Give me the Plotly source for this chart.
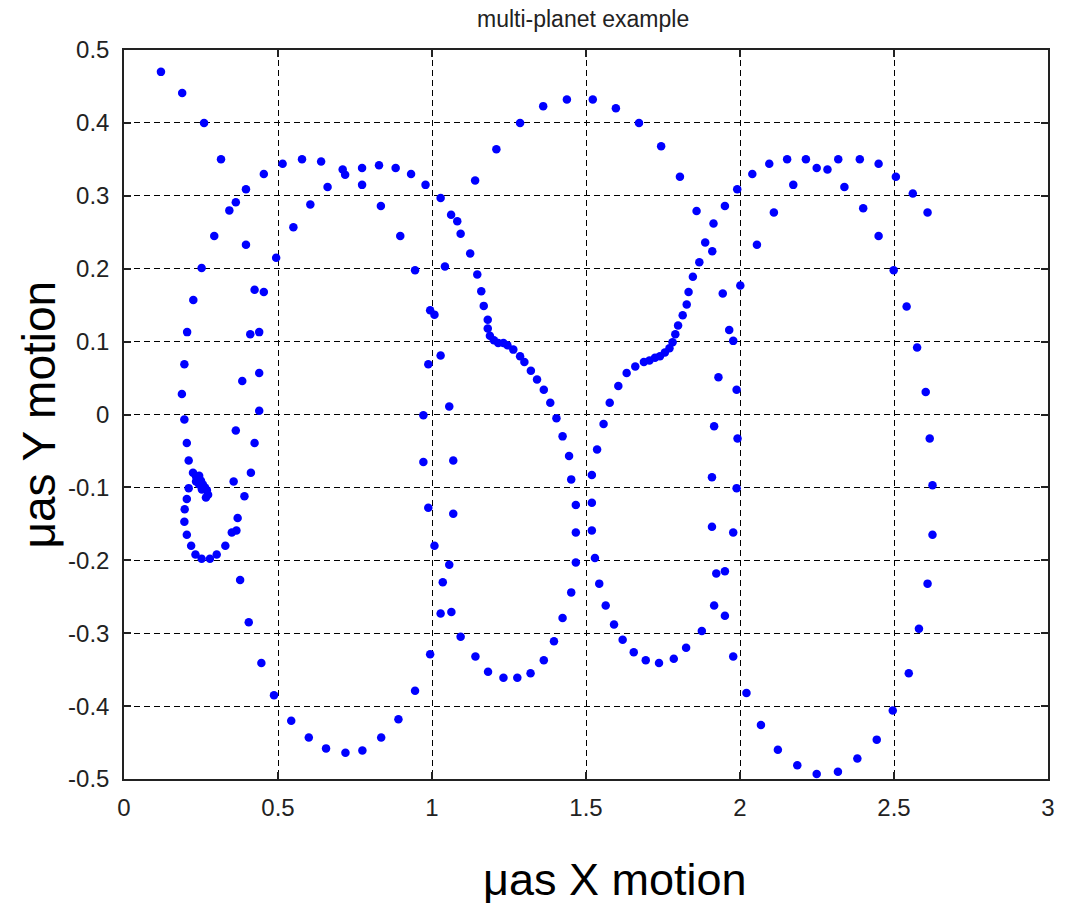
import plotly.graph_objects as go

# --- data (µas) ---
x_motion = [
    # outer left arc, top and descending branch
    0.120, 0.189, 0.260, 0.315, 0.342, 0.363, 0.396, 0.454, 0.515, 0.578, 0.640, 0.710, 0.718,
    0.773, 0.828, 0.882, 0.932, 0.979, 1.028, 1.062, 1.082, 1.093, 1.124, 1.147, 1.160, 1.168,
    1.181, 1.181, 1.188, 1.201, 1.215, 1.232, 1.245, 1.264, 1.286, 1.300, 1.321, 1.341, 1.363,
    1.384, 1.404, 1.424, 1.445, 1.452, 1.467, 1.467, 1.467, 1.452, 1.424, 1.396, 1.363, 1.320,
    1.277, 1.232, 1.182, 1.141, 1.093, 1.063, 1.028, 1.035, 1.056, 1.008, 1.069, 0.988, 1.069,
    0.972, 1.056, 0.972, 1.028, 0.988, 0.994, 1.008, 1.042, 0.945,
    # inner left arc and loop
    0.897, 0.834, 0.773, 0.661, 0.605, 0.550, 0.494, 0.454, 0.424, 0.396, 0.293, 0.252, 0.225,
    0.205, 0.196, 0.188, 0.196, 0.204, 0.210,
    0.224, 0.234, 0.244, 0.250, 0.256, 0.263, 0.269, 0.273, 0.266, 0.244, 0.253, 0.234,
    0.210, 0.204, 0.197, 0.196, 0.204, 0.218, 0.232, 0.252, 0.279, 0.301, 0.329, 0.350, 0.365,
    0.369, 0.391, 0.356, 0.412, 0.424, 0.363, 0.439, 0.384, 0.439, 0.410, 0.439,
    # lower left arc
    0.377, 0.405, 0.446, 0.487, 0.543, 0.600, 0.656, 0.719, 0.774, 0.835, 0.891, 0.945, 0.994,
    # top middle arc
    1.140, 1.209, 1.286, 1.361, 1.438, 1.522, 1.597, 1.672, 1.744, 1.805,
    # right-middle branch
    1.529, 1.519, 1.519, 1.519, 1.536, 1.557, 1.577, 1.605, 1.632, 1.660, 1.688, 1.706, 1.724,
    1.740, 1.756, 1.771, 1.781, 1.790, 1.799, 1.814, 1.827, 1.833, 1.847, 1.868, 1.887, 1.910,
    1.859, 1.914, 1.951, 1.991, 1.944, 2.001,
    1.543, 1.564, 1.591, 1.619, 1.655, 1.694, 1.737, 1.785, 1.825, 1.876, 1.916, 1.951, 1.923,
    1.951, 1.978,
    1.965, 1.978, 1.930, 1.989, 1.916, 1.992, 1.909, 1.989, 1.909, 1.978,
    # right arc
    2.040, 2.095, 2.153, 2.214, 2.249, 2.284, 2.319, 2.389, 2.450, 2.506, 2.561, 2.609, 2.173,
    2.110, 2.055, 2.339, 2.400, 2.450, 2.499, 2.541, 2.575, 2.603, 2.616, 2.625, 2.625, 2.609,
    2.581, 2.548, 2.496, 2.444, 2.381, 2.318, 2.249, 2.186, 2.123, 2.068, 2.021,
]

y_motion = [
    0.470, 0.441, 0.400, 0.350, 0.280, 0.291, 0.309, 0.330, 0.344, 0.350, 0.347, 0.336, 0.329,
    0.338, 0.342, 0.338, 0.330, 0.315, 0.297, 0.274, 0.265, 0.248, 0.221, 0.192, 0.169, 0.149,
    0.130, 0.118, 0.108, 0.102, 0.098, 0.098, 0.095, 0.089, 0.080, 0.072, 0.060, 0.048, 0.034,
    0.016, -0.005, -0.030, -0.057, -0.089, -0.124, -0.162, -0.203, -0.244, -0.279, -0.311, -0.337, -0.355,
    -0.361, -0.361, -0.353, -0.332, -0.305, -0.271, -0.273, -0.230, -0.206, -0.180, -0.136, -0.128, -0.063,
    -0.065, 0.011, -0.001, 0.081, 0.069, 0.143, 0.137, 0.203, 0.198,
    0.245, 0.286, 0.315, 0.312, 0.288, 0.257, 0.215, 0.168, 0.171, 0.233, 0.245, 0.201, 0.157,
    0.113, 0.069, 0.028, -0.007, -0.039, -0.063,
    -0.080, -0.085, -0.084, -0.091, -0.096, -0.100, -0.104, -0.110, -0.114, -0.096, -0.103, -0.092,
    -0.101, -0.116, -0.130, -0.147, -0.165, -0.180, -0.192, -0.198, -0.198, -0.192, -0.180, -0.162, -0.159,
    -0.142, -0.112, -0.092, -0.080, -0.039, -0.022, 0.005, 0.046, 0.057, 0.110, 0.113,
    -0.227, -0.285, -0.341, -0.385, -0.420, -0.443, -0.458, -0.464, -0.461, -0.443, -0.418, -0.379, -0.329,
    0.321, 0.364, 0.400, 0.423, 0.432, 0.432, 0.420, 0.400, 0.368, 0.326,
    -0.197, -0.159, -0.121, -0.083, -0.048, -0.013, 0.016, 0.039, 0.057, 0.066, 0.072, 0.074, 0.078,
    0.080, 0.085, 0.091, 0.099, 0.110, 0.122, 0.136, 0.151, 0.168, 0.189, 0.209, 0.236, 0.224,
    0.279, 0.262, 0.286, 0.309, 0.166, 0.177,
    -0.232, -0.262, -0.288, -0.309, -0.326, -0.337, -0.341, -0.335, -0.320, -0.297, -0.262, -0.276, -0.218,
    -0.215, -0.332,
    0.116, 0.101, 0.051, 0.034, -0.016, -0.033, -0.086, -0.101, -0.154, -0.162,
    0.330, 0.344, 0.350, 0.350, 0.338, 0.336, 0.350, 0.350, 0.344, 0.326, 0.303, 0.277, 0.315,
    0.277, 0.233, 0.312, 0.283, 0.245, 0.198, 0.148, 0.092, 0.031, -0.033, -0.097, -0.165, -0.232,
    -0.294, -0.355, -0.406, -0.446, -0.472, -0.490, -0.493, -0.481, -0.460, -0.426, -0.382,
]

x_tickvals = [0, 0.5, 1, 1.5, 2, 2.5, 3]
x_ticktext = ["0", "0.5", "1", "1.5", "2", "2.5", "3"]
y_tickvals = [0.5, 0.4, 0.3, 0.2, 0.1, 0, -0.1, -0.2, -0.3, -0.4, -0.5]
y_ticktext = ["0.5", "0.4", "0.3", "0.2", "0.1", "0", "-0.1", "-0.2", "-0.3", "-0.4", "-0.5"]

title_text = "multi-planet example"
x_label = "μas X motion"
y_label = "μas Y motion"

FONT = "Liberation Sans, Arial, sans-serif"

fig = go.Figure()
fig.add_trace(go.Scatter(
    x=x_motion, y=y_motion, mode="markers",
    marker=dict(color="#0000FF", size=8.5, line=dict(width=0)),
    showlegend=False, hoverinfo="skip",
))

axis_common = dict(
    showline=True, linecolor="#222222", linewidth=1.5, mirror="allticks",
    ticks="inside", ticklen=7, tickcolor="#222222", tickwidth=1.5,
    showgrid=True, gridcolor="black", gridwidth=1, griddash="6px,4px",
    zeroline=False, tickfont=dict(family=FONT, size=24, color="#222222"),
)

fig.update_xaxes(range=[0, 3], tickvals=x_tickvals, ticktext=x_ticktext,
                 ticklabelstandoff=6, **axis_common)
fig.update_yaxes(range=[-0.5, 0.5], tickvals=y_tickvals, ticktext=y_ticktext,
                 ticklabelstandoff=8, **axis_common)

fig.update_layout(
    width=1066, height=909,
    margin=dict(l=124, r=18, t=50, b=130),
    paper_bgcolor="white", plot_bgcolor="white",
    title=dict(text=title_text, x=0.547, xanchor="center", y=0.979, yanchor="middle",
               font=dict(family=FONT, size=23, color="#222222")),
    annotations=[
        dict(text=x_label, xref="paper", yref="paper", x=0.531, y=-0.138,
             xanchor="center", yanchor="middle", showarrow=False,
             font=dict(family=FONT, size=45, color="black")),
        dict(text=y_label, xref="paper", yref="paper", x=-0.093, y=0.5,
             xanchor="center", yanchor="middle", showarrow=False, textangle=-90,
             font=dict(family=FONT, size=46, color="black")),
    ],
)

fig.write_html("out.html")
